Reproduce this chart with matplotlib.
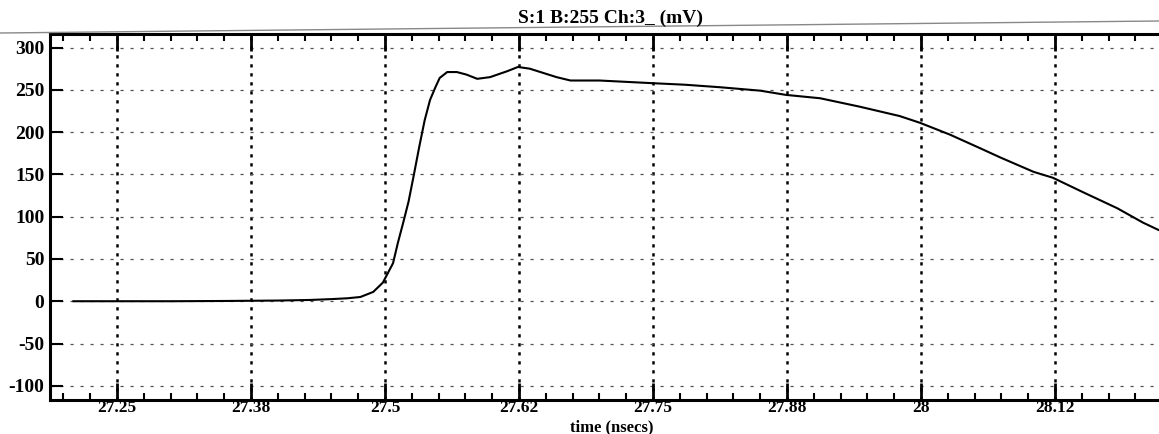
import matplotlib.pyplot as plt
from matplotlib.ticker import FixedLocator, MultipleLocator
from matplotlib.lines import Line2D

# trace (time in ns, amplitude in mV)
time_ns = [27.209, 27.25, 27.30, 27.35, 27.40, 27.43, 27.45, 27.465, 27.477, 27.489,
           27.498, 27.5075, 27.512, 27.517, 27.522, 27.527, 27.532, 27.537,
           27.542, 27.547, 27.551, 27.558, 27.567, 27.576, 27.586, 27.598, 27.614,
           27.624, 27.635, 27.645, 27.660, 27.673, 27.700, 27.747, 27.780, 27.813,
           27.850, 27.874, 27.906, 27.943, 27.980, 27.999, 28.027, 28.055, 28.074,
           28.105, 28.123, 28.151, 28.183, 28.207, 28.222]
signal_mv = [0, 0, 0, 0.3, 0.8, 1.5, 2.5, 3.5, 5, 11,
             22, 45, 69, 93, 118, 150, 183, 214,
             238, 253, 264, 271, 271, 268, 263, 265, 272,
             277, 275, 271, 265, 261, 261, 258, 256, 253,
             249, 244, 240, 230, 219, 211, 197, 181, 170,
             153, 146, 129, 110, 93, 84]

x_ticks = [27.25, 27.375, 27.5, 27.625, 27.75, 27.875, 28.0, 28.125]
x_tick_labels = ["27.25", "27.38", "27.5", "27.62", "27.75", "27.88", "28", "28.12"]
y_ticks = [-100, -50, 0, 50, 100, 150, 200, 250, 300]
y_tick_labels = ["-100", "-50", "0", "50", "100", "150", "200", "250", "300"]

FONT = "Liberation Serif"

fig = plt.figure(figsize=(11.59, 4.34), dpi=100)
ax = fig.add_axes([50 / 1159, 34 / 434, 1 - 50 / 1159, 366 / 434])

ax.plot(time_ns, signal_mv, color="black", lw=1.5, solid_capstyle="round",
        solid_joinstyle="round")

ax.set_xlim(27.1875, 28.222)
ax.set_ylim(-116.8, 316)

ax.xaxis.set_major_locator(FixedLocator(x_ticks))
ax.set_xticklabels(x_tick_labels)
ax.xaxis.set_minor_locator(MultipleLocator(0.025))
ax.yaxis.set_major_locator(FixedLocator(y_ticks))
ax.set_yticklabels(y_tick_labels)

for lab in ax.get_xticklabels():
    lab.set_fontfamily(FONT)
    lab.set_fontweight("bold")
    lab.set_fontsize(12.5)
for lab in ax.get_yticklabels():
    lab.set_fontfamily(FONT)
    lab.set_fontweight("bold")
    lab.set_fontsize(14)

ax.tick_params(axis="x", which="major", direction="in", length=12, width=2,
               top=True, bottom=True, pad=0)
ax.tick_params(axis="x", which="minor", direction="in", length=5, width=1.5,
               top=True, bottom=True)
ax.tick_params(axis="y", which="major", direction="in", length=9, width=1.5,
               left=True, right=False, pad=4)

# grid: heavy dotted verticals, light broken horizontals
for xv in x_ticks:
    ax.axvline(xv, color="black", lw=1.8, ls=(0, (1.3, 2.3)), zorder=0)
for yv in y_ticks:
    ax.axhline(yv, color="#555555", lw=0.9, ls=(0, (2.5, 5.5)), zorder=0)

for side in ["left", "bottom", "top"]:
    ax.spines[side].set_linewidth(2.2)
ax.spines["right"].set_visible(False)

fig.text(610 / 1159, 1 - 18 / 434, "S:1 B:255 Ch:3_ (mV)", ha="center", va="center",
         family=FONT, fontweight="bold", fontsize=14)
fig.text(612 / 1159, 1 - 431 / 434, "time (nsecs)", ha="center", va="baseline",
         family=FONT, fontweight="bold", fontsize=12)

# faint scan edge above the frame
fig.add_artist(Line2D([0, 1], [1 - 33 / 434, 1 - 21 / 434], transform=fig.transFigure,
                      color="#888888", lw=1.0))

fig.savefig("out.png", dpi=100, facecolor="white")
